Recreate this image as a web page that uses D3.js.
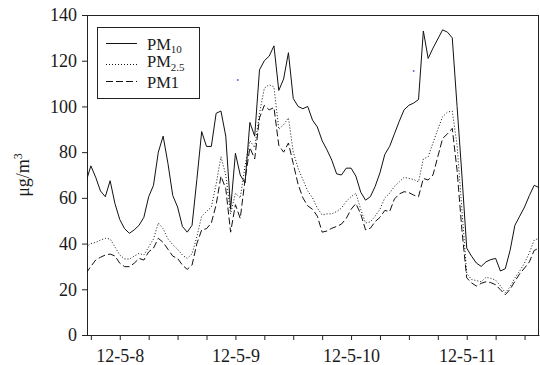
<!DOCTYPE html>
<html><head><meta charset="utf-8">
<script src="https://cdn.jsdelivr.net/npm/d3@7"></script>
<style>body{margin:0;background:#fff}text{font-family:"Liberation Serif","Times New Roman",serif;fill:#1a1a1a}</style>
</head><body><svg id="c" width="540" height="365"></svg>
<script>
// hours relative to 12-5-8 00:00 (hourly samples)
const hours = d3.range(-7, 88);
const pm10 = [67,74,69,63,60.5,67.5,57.5,
 50.5,46.5,44.5,46,48,51.5,60.5,65.5,80,87,75,61,56,47.5,45,48,68,89,82.5,82.5,97,98,87,55,
 79.5,70,66.5,93,87,116,120,122,126.5,107,112,123.5,103.5,100,99,100,94,91,85,81,76.5,70.5,70,73,
 73,69.5,62.5,59,60.5,65,71,79,82.5,88,93.5,98.5,100.5,101.5,103,133,121,125.5,129.5,133.5,132.5,130,100,70,
 38,34.5,31.5,30,32,33,33.5,28,29,37,48,52,56,61,65.5,64.5];
const pm25 = [38.5,40,40.5,41.5,42.3,42,38.5,
 35,33.3,33.2,34.5,35.7,35,38.5,42,49,46.5,42,39.5,37.5,35,33.5,35.5,43,52,54,56,66,78,70,53,
 62,60,74,85,82,97,108,109.5,108.5,90,92,95,80,73,68,63,60,55.5,52.5,53,53,54,55.5,58.5,
 60.5,62,55,49,49.5,52,55,60,62,65,67,69,68.5,68,67,77,78,84,90,95.5,97.5,98,83,55,
 27,24.3,23.8,23.3,25.2,24.8,24,21.5,18.5,21,25,28,31.5,36,41.5,42.3];
const pm1 = [27,30,32.8,34,35,35.4,34.6,
 31.4,29.9,29.9,31.4,33.5,32.8,36.4,38,42.3,40.5,37.5,34.5,33.5,30.6,28.7,30.6,40,46,46.5,49,57,69.5,64,45,
 57,51,68,82,77,95,100.5,98.5,99.5,83,80,84,75,66,60,56.5,55,52,45,45.5,46.7,47.5,48.5,51,
 55,57.5,53,46,46.7,49.6,51.5,54.5,54,59.5,61.7,62.7,62.3,61.2,60.5,68.5,67.8,70,78,86,88,90.4,72,46,
 25,22.8,21.4,22.6,23.3,22.9,22,19.8,17.6,20,23.5,26.8,29.3,32,37,38];
const yTicks = [0,20,40,60,80,100,120,140];
const xTickHours = d3.range(-6, 85, 6);
const dayHours = [0,24,48,72];
const dayLabels = ["12-5-8","12-5-9","12-5-10","12-5-11"];
const seriesNames = [["PM","10"],["PM","2.5"],["PM1",""]];
const seriesDash = [null,"1,2","7,3"];
const strayHours = [24.5, 61.0];
const strayValues = [111.6, 115.5];

const L=87, R=539, T=15, B=335;
const svg = d3.select("#c");
const x = d3.scaleLinear().domain([-6.8, 87]).range([L, R]);
const y = d3.scaleLinear().domain([0, 140]).range([B, T]);

svg.append("defs").append("clipPath").attr("id","clip")
  .append("rect").attr("x",L).attr("y",T).attr("width",R-L).attr("height",B-T);

// axes
const xa = svg.append("g").attr("transform",`translate(0,${B})`)
  .call(d3.axisBottom(x).tickValues(xTickHours).tickSize(5).tickSizeOuter(0).tickPadding(6)
    .tickFormat(h => { const i = dayHours.indexOf(h); return i>=0 ? dayLabels[i] : ""; }));
const ya = svg.append("g").attr("transform",`translate(${L},0)`)
  .call(d3.axisLeft(y).tickValues(yTicks).tickSize(5).tickSizeOuter(0).tickPadding(5));
[xa, ya].forEach(g => {
  g.selectAll("path,line").attr("stroke","#222");
  g.selectAll("text").style("font-size","18px").attr("fill","#1a1a1a");
});
xa.selectAll("text").attr("dy","0.9em");

// frame
svg.append("rect").attr("x",L+0.5).attr("y",T+0.5).attr("width",R-L-1).attr("height",B-T)
  .attr("fill","none").attr("stroke","#222");

// lines
const series = [pm10, pm25, pm1];
const line = d3.line().x((d,i)=>x(hours[i])).y(d=>y(d));
const plot = svg.append("g").attr("clip-path","url(#clip)");
series.forEach((s,k) => {
  plot.append("path").datum(s).attr("d", line).attr("fill","none")
    .attr("stroke","#111").attr("stroke-width",1)
    .attr("stroke-dasharray", seriesDash[k]);
});
plot.selectAll("circle.stray").data(strayHours).join("circle")
  .attr("cx",(d)=>x(d)).attr("cy",(d,i)=>y(strayValues[i])).attr("r",1)
  .attr("fill","#6a6ac8");

// legend
const lg = svg.append("g");
lg.append("rect").attr("x",97.5).attr("y",27.5).attr("width",102).attr("height",71)
  .attr("fill","#fff").attr("stroke","#222");
const lineY = [43.5, 64.5, 81.5];
const textY = [49.5, 67, 87.5];
seriesNames.forEach((nm,k) => {
  lg.append("line").attr("x1",106).attr("x2",137).attr("y1",lineY[k]).attr("y2",lineY[k])
    .attr("stroke","#111").attr("stroke-width",1).attr("stroke-dasharray",seriesDash[k]);
  const t = lg.append("text").attr("x",147).attr("y",textY[k]).style("font-size","16.5px");
  t.append("tspan").text(nm[0]);
  if (nm[1]) t.append("tspan").attr("dy",3.5).style("font-size","11px").text(nm[1]);
});

// y label
svg.append("text").attr("transform","translate(29,175) rotate(-90)").attr("text-anchor","middle")
  .style("font-size","18px")
  .call(t => { t.append("tspan").text("μg/m"); t.append("tspan").attr("dy",-7).style("font-size","12px").text("3"); });
</script></body></html>
